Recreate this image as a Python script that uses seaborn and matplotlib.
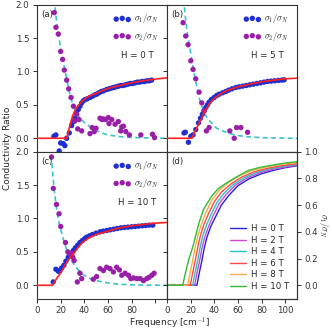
import numpy as np
import pandas as pd
import matplotlib
matplotlib.use('Agg')
import matplotlib.pyplot as plt
import seaborn as sns

# ---- panel (a): H = 0 T ----
a_s1_x = [14.4, 16.1, 18.9, 20.1, 22.3, 23.7, 25.2, 27.4, 29.4, 31, 32.2, 33.5, 35, 36.5, 37.9, 39.3,
          40.7, 42.5, 44.9, 47, 49, 50.6, 52.5, 54.5, 56.5, 59, 61, 63, 65, 67, 69, 71, 73, 75, 77, 79,
          81, 83, 85, 87, 89, 91, 93, 95, 97]
a_s1_y = [0.03, 0.05, -0.19, -0.07, -0.08, -0.11, 0.0, 0.08, 0.19, 0.25, 0.30, 0.37, 0.43, 0.48, 0.53, 0.56,
          0.58, 0.59, 0.61, 0.63, 0.65, 0.66, 0.68, 0.70, 0.71, 0.73, 0.74, 0.75, 0.76, 0.77, 0.78, 0.79,
          0.79, 0.80, 0.81, 0.82, 0.82, 0.83, 0.84, 0.84, 0.85, 0.85, 0.86, 0.86, 0.87]
a_s2_x = [14.7, 16.1, 18.1, 20.1, 21.8, 23.2, 25.2, 26.9, 28.9, 30.9, 32.2, 33.6, 34.5, 35.6, 37.9, 44.9,
          46.8, 48.5, 50, 53.4, 55, 56.2, 58, 60.4, 61, 63.3, 66.1, 68.9, 70.9, 71.8, 73.2, 75.2, 78.2,
          87.9, 97.7, 99.5]
a_s2_y = [1.88, 1.66, 1.56, 1.30, 1.18, 1.02, 0.87, 0.74, 0.61, 0.48, 0.26, 0.36, 0.14, 0.28, 0.11, 0.07,
          0.16, 0.10, 0.15, 0.30, 0.28, 0.29, 0.28, 0.31, 0.22, 0.28, 0.21, 0.25, 0.11, 0.17, 0.18, 0.10,
          0.05, 0.05, 0.06, 0.01]
a_fit1_x = [0, 25.2, 27, 28.5, 30, 31.5, 33, 35, 38, 42, 46, 50, 55, 60, 70, 80, 90, 100, 110]
a_fit1_y = [0, 0, 0.13, 0.23, 0.32, 0.39, 0.44, 0.49, 0.55, 0.61, 0.645, 0.67, 0.71, 0.745, 0.79, 0.83,
            0.86, 0.885, 0.905]
a_fit2_x = [14.5, 16, 18, 20, 22, 24, 26, 28, 31, 34, 38, 42, 47, 53, 60, 70, 80, 90, 100, 110]
a_fit2_y = [2.2, 1.85, 1.58, 1.36, 1.17, 1.0, 0.82, 0.66, 0.46, 0.36, 0.27, 0.21, 0.15, 0.09, 0.05,
            0.025, 0.012, 0.006, 0.003, 0.0]

# ---- panel (b): H = 5 T ----
b_s1_x = [14.4, 15.5, 18.1, 20.1, 22, 24.3, 26.6, 28.3, 29.9, 31.3, 32.8, 34.2, 35.6, 37.5, 39.8, 42,
          44.1, 47, 49.7, 52, 55, 58.2, 61, 64, 67, 70, 73, 76, 79, 82, 85, 88, 91, 94, 97, 99]
b_s1_y = [0.08, 0.09, -0.06, 0.03, 0.05, 0.13, 0.23, 0.30, 0.36, 0.41, 0.46, 0.50, 0.54, 0.58, 0.61, 0.64,
          0.66, 0.68, 0.70, 0.72, 0.74, 0.76, 0.77, 0.78, 0.79, 0.80, 0.81, 0.82, 0.83, 0.84, 0.85, 0.855,
          0.86, 0.865, 0.87, 0.875]
b_s2_x = [13.6, 15.8, 17.8, 20.1, 22, 24.3, 27.1, 29.4, 31.4, 33.3, 35.6, 53.1, 56.8, 58.8, 62.4, 68.1]
b_s2_y = [1.73, 1.53, 1.40, 1.16, 1.03, 0.89, 0.69, 0.53, 0.41, 0.11, 0.16, 0.11, 0.0, 0.16, 0.16, 0.09]
b_fit1_x = [0, 21, 23, 25, 27, 29, 31, 33, 36, 40, 45, 50, 60, 70, 80, 90, 100, 110]
b_fit1_y = [0, 0, 0.08, 0.15, 0.22, 0.29, 0.36, 0.43, 0.52, 0.60, 0.66, 0.71, 0.77, 0.81, 0.845, 0.87,
            0.89, 0.90]
b_fit2_x = [13.5, 15, 17, 19, 21, 23, 25, 27, 29, 32, 35, 38, 42, 47, 53, 60, 70, 80, 90, 100, 110]
b_fit2_y = [2.2, 1.9, 1.6, 1.38, 1.18, 0.96, 0.79, 0.62, 0.50, 0.36, 0.28, 0.22, 0.15, 0.11, 0.07, 0.04,
            0.02, 0.01, 0.005, 0.002, 0.0]

# ---- panel (c): H = 10 T ----
c_s1_x = [13.8, 16.1, 18.1, 19.5, 21, 22.9, 24.5, 26.5, 28.5, 30.8, 32.5, 34.5, 36.4, 38.5, 40.5, 42.1,
          44.5, 47, 50, 53.4, 56, 59, 61.9, 65, 68, 71, 74, 77, 80, 83, 86, 89, 92, 95, 98]
c_s1_y = [0.05, 0.24, 0.21, 0.22, 0.26, 0.30, 0.36, 0.42, 0.47, 0.52, 0.56, 0.60, 0.64, 0.67, 0.70, 0.72,
          0.74, 0.76, 0.78, 0.80, 0.81, 0.82, 0.83, 0.84, 0.85, 0.86, 0.865, 0.87, 0.875, 0.88, 0.885,
          0.89, 0.895, 0.90, 0.90]
c_s2_x = [12.4, 13.9, 16.6, 18.8, 20.2, 24.2, 26.2, 27.5, 29, 30.4, 31.5, 34.2, 36.4, 37.9, 47.7, 50.5,
          53.4, 56.2, 59, 61.8, 64.7, 67.5, 69.8, 71.8, 74.6, 77.4, 79.4, 81.6, 84.5, 87.3, 90.1, 92.9,
          94.9, 97.2, 99.1]
c_s2_y = [1.92, 1.45, 1.21, 1.07, 0.88, 0.64, 0.50, 0.47, 0.48, 0.42, 0.37, 0.05, 0.18, 0.10, 0.09, 0.13,
          0.25, 0.22, 0.27, 0.25, 0.20, 0.27, 0.23, 0.15, 0.18, 0.15, 0.10, 0.11, 0.10, 0.10, 0.07, 0.10,
          0.12, 0.15, 0.18]
c_fit1_x = [0, 13.3, 15, 17, 19.5, 22, 25, 28, 31, 35, 39, 45, 50, 62, 70, 80, 90, 100, 110]
c_fit1_y = [0, 0, 0.05, 0.11, 0.17, 0.24, 0.34, 0.41, 0.47, 0.57, 0.65, 0.72, 0.76, 0.82, 0.86, 0.89,
            0.91, 0.93, 0.94]
c_fit2_x = [11.5, 13, 15, 17, 19, 21, 23, 25, 27, 30, 33, 36, 40, 45, 50, 60, 70, 80, 90, 100, 110]
c_fit2_y = [2.2, 1.75, 1.38, 1.10, 0.92, 0.78, 0.65, 0.54, 0.46, 0.35, 0.27, 0.21, 0.15, 0.10, 0.07,
            0.035, 0.015, 0.007, 0.003, 0.001, 0.0]

# ---- panel (d): sigma1 fits vs field ----
fields = ['H = 0 T', 'H = 2 T', 'H = 4 T', 'H = 6 T', 'H = 8 T', 'H = 10 T']
d_x = [
    [0, 25.3, 27, 29.6, 31.5, 33.8, 37, 40.9, 46, 52, 60, 69, 80, 90, 100, 110],
    [0, 23.4, 25.1, 27.7, 29.6, 31.9, 35.1, 39, 44, 50, 58, 67, 78, 88, 100, 110],
    [0, 21.7, 23.4, 26, 27.9, 30.2, 33.4, 37.3, 42.3, 48.3, 56.3, 65.3, 76, 86, 98, 110],
    [0, 19.7, 21.4, 24, 25.9, 28.2, 31.4, 35.3, 40.3, 46.3, 54.3, 63.3, 74, 85, 97, 110],
    [0, 17.5, 19.2, 21.8, 23.7, 26, 29.2, 33.1, 38.1, 44.1, 52.1, 61.1, 72, 84, 96, 110],
    [0, 13.3, 15, 18.3, 20.5, 22.5, 24.5, 26.8, 31, 38, 43, 49.3, 55, 60.6, 69, 80, 90, 100, 110],
]
d_y = [
    [0, 0, 0.08, 0.19, 0.28, 0.36, 0.44, 0.51, 0.60, 0.67, 0.745, 0.795, 0.835, 0.86, 0.88, 0.895],
    [0, 0, 0.08, 0.19, 0.28, 0.36, 0.44, 0.52, 0.61, 0.68, 0.75, 0.80, 0.84, 0.865, 0.885, 0.90],
    [0, 0, 0.08, 0.19, 0.28, 0.37, 0.45, 0.53, 0.62, 0.69, 0.755, 0.805, 0.845, 0.87, 0.89, 0.905],
    [0, 0, 0.08, 0.19, 0.28, 0.37, 0.46, 0.54, 0.63, 0.70, 0.76, 0.81, 0.85, 0.875, 0.895, 0.91],
    [0, 0, 0.08, 0.19, 0.28, 0.37, 0.46, 0.55, 0.64, 0.71, 0.77, 0.82, 0.86, 0.885, 0.905, 0.918],
    [0, 0, 0.07, 0.19, 0.25, 0.31, 0.38, 0.46, 0.57, 0.67, 0.72, 0.76, 0.79, 0.82, 0.86, 0.885, 0.90,
     0.915, 0.925],
]
d_colors = ['#2222dd', '#d444d4', '#22c4c4', '#ff4848', '#ffaa48', '#33bb33']

panel_tags = ['(a)', '(b)', '(c)']
panel_fields = ['H = 0 T', 'H = 5 T', 'H = 10 T']

FS = 6.2

sns.set_theme(style='ticks')
plt.rcParams.update({
    'font.family': ['DejaVu Sans'],
    'font.size': FS,
    'mathtext.fontset': 'cm',
    'axes.linewidth': 0.8,
    'axes.edgecolor': '#333333',
    'xtick.major.size': 3,
    'ytick.major.size': 3,
    'xtick.major.pad': 2.5,
    'ytick.major.pad': 2.5,
    'xtick.major.width': 0.7,
    'ytick.major.width': 0.7,
    'xtick.labelsize': FS,
    'ytick.labelsize': FS,
    'xtick.color': '#333333',
    'ytick.color': '#333333',
})

fig, axs = plt.subplots(2, 2, figsize=(3.32, 3.30), dpi=100)
fig.subplots_adjust(left=0.111, right=0.895, top=0.986, bottom=0.095, wspace=0, hspace=0)

blue = '#1f2fd0'
purple = '#9a1fa8'
red = '#ff2020'
cyan = '#3cc4cc'

sets = [
    (axs[0, 0], a_s1_x, a_s1_y, a_s2_x, a_s2_y, a_fit1_x, a_fit1_y, a_fit2_x, a_fit2_y),
    (axs[0, 1], b_s1_x, b_s1_y, b_s2_x, b_s2_y, b_fit1_x, b_fit1_y, b_fit2_x, b_fit2_y),
    (axs[1, 0], c_s1_x, c_s1_y, c_s2_x, c_s2_y, c_fit1_x, c_fit1_y, c_fit2_x, c_fit2_y),
]

for i, (ax, s1x, s1y, s2x, s2y, f1x, f1y, f2x, f2y) in enumerate(sets):
    sns.lineplot(x=f2x, y=f2y, ax=ax, color=cyan, lw=1.2, linestyle=(0, (3, 2)),
                 sort=False, estimator=None, zorder=1)
    sns.scatterplot(x=s1x, y=s1y, ax=ax, color=blue, s=15, edgecolor='none', linewidth=0,
                    label=r'$\sigma_1/\sigma_N$', zorder=2)
    sns.scatterplot(x=s2x, y=s2y, ax=ax, color=purple, s=15, edgecolor='none', linewidth=0,
                    label=r'$\sigma_2/\sigma_N$', zorder=2)
    sns.lineplot(x=f1x, y=f1y, ax=ax, color=red, lw=1.2, sort=False, estimator=None, zorder=3)
    ax.legend(loc='upper right', frameon=False, scatterpoints=3, handletextpad=0.4,
              borderaxespad=0.5, fontsize=FS, handlelength=2.0)
    ax.text(0.03, 0.965, panel_tags[i], transform=ax.transAxes, ha='left', va='top', fontsize=FS)
    ax.text(0.77, 0.655, panel_fields[i], transform=ax.transAxes, ha='center', va='center',
            fontsize=FS)

for ax in axs.flat:
    ax.set_xlim(0, 110)
    ax.set_ylim(-0.2, 2.0)
    ax.set_xticks([0, 20, 40, 60, 80, 100])
    ax.set_yticks([0.0, 0.5, 1.0, 1.5, 2.0])
    ax.set_xlabel('')
    ax.set_ylabel('')

axs[0, 0].tick_params(labelbottom=False)
axs[0, 1].tick_params(labelbottom=False, labelleft=False)
axs[1, 1].tick_params(labelleft=False)
axs[1, 0].set_xticklabels(['0', '20', '40', '60', '80', ''])

# panel (d) on a twin axis
axd = axs[1, 1].twinx()
for k in range(len(fields)):
    sns.lineplot(x=d_x[k], y=d_y[k], ax=axd, color=d_colors[k], lw=1.0, sort=False,
                 estimator=None, label=fields[k])
axd.set_ylim(-0.1, 1.0)
axd.set_yticks([0.0, 0.2, 0.4, 0.6, 0.8, 1.0])
axd.set_xlim(0, 110)
axd.tick_params(axis='y', pad=2)
axd.set_ylabel(r'$\sigma_1/\sigma_N$', rotation=270, fontsize=FS, va='center')
axd.yaxis.set_label_coords(1.205, 0.5)
axd.legend(loc='lower right', frameon=False, fontsize=FS, handlelength=1.9,
           labelspacing=0.3, handletextpad=0.6, borderaxespad=0.5)
axd.text(0.03, 0.965, '(d)', transform=axd.transAxes, ha='left', va='top', fontsize=FS)

fig.text(0.022, 0.552, 'Conductivity Ratio', rotation=90, ha='center', va='center', fontsize=6.5)
fig.text(0.51, 0.02, r'Frequency [cm$^{-1}$]', ha='center', va='center', fontsize=6.5)

fig.savefig('out.png', dpi=100)
